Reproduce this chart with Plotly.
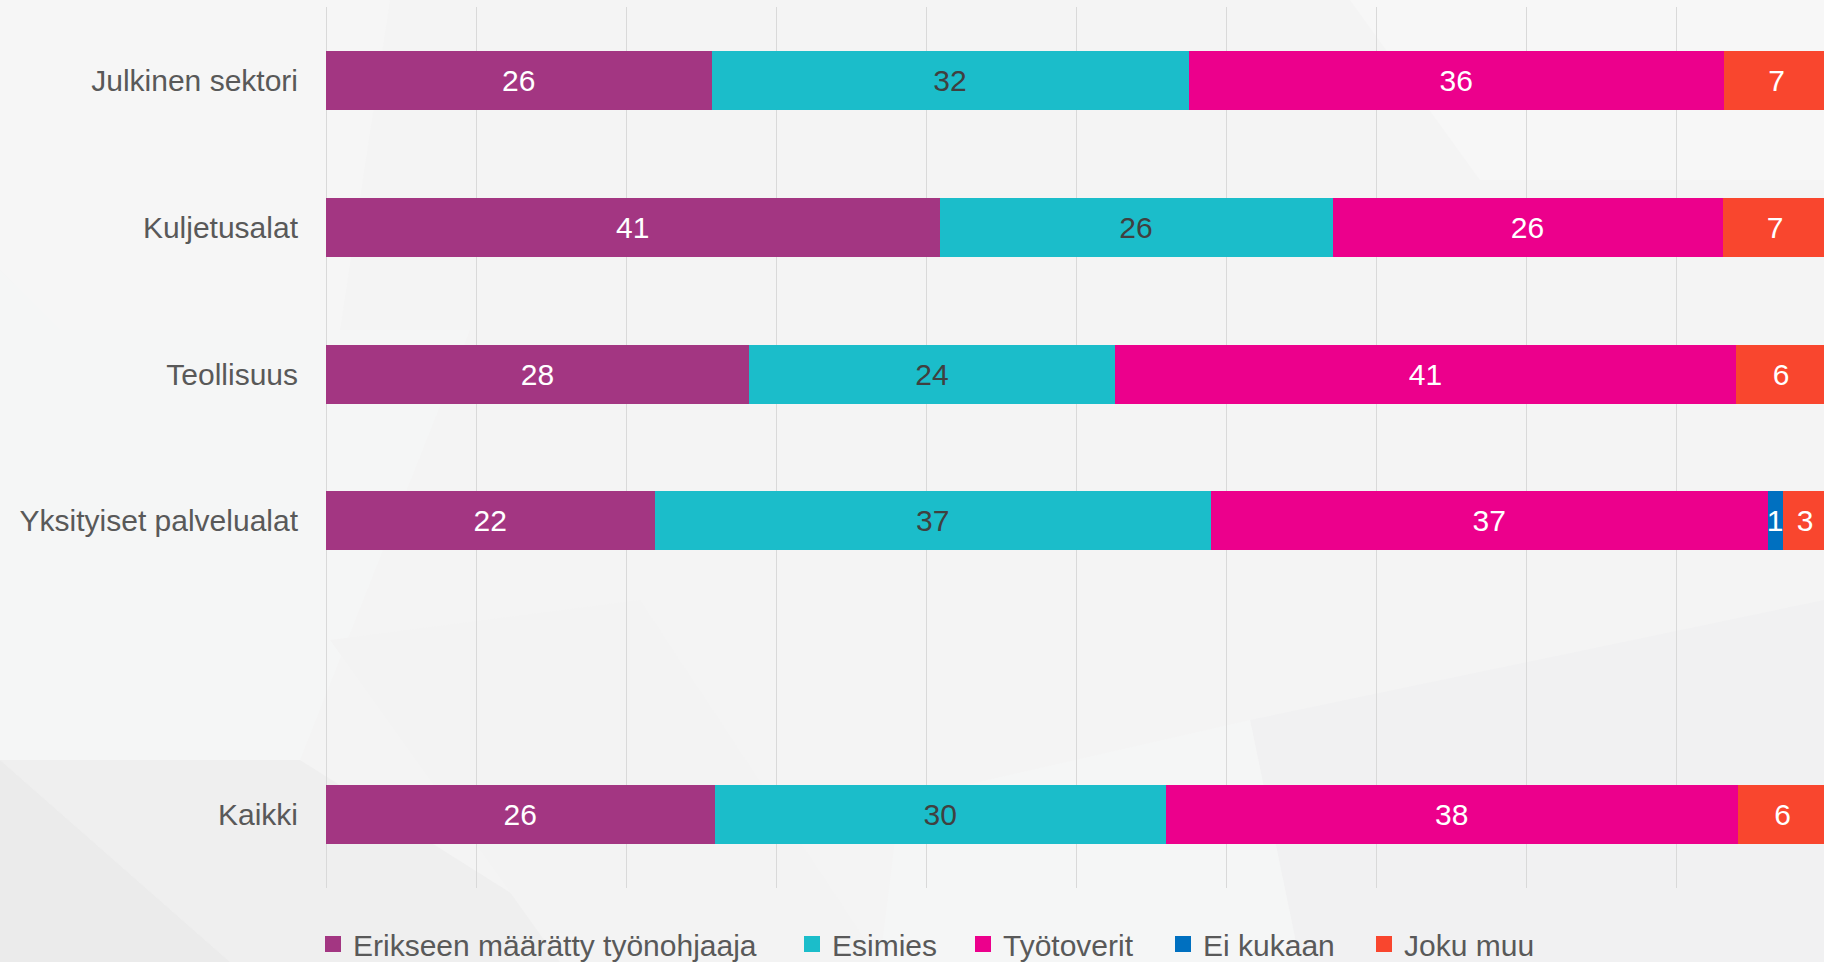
import plotly.graph_objects as go

# ---------------- data ----------------
categories = ["Julkinen sektori", "Kuljetusalat", "Teollisuus",
              "Yksityiset palvelualat", " ", "Kaikki"]
series_names = ["Erikseen määrätty työnohjaaja", "Esimies", "Työtoverit",
                "Ei kukaan", "Joku muu"]
erikseen = [25.7, 40.9, 28.2, 21.9, None, 25.9]
esimies = [31.8, 26.2, 24.4, 37.1, None, 30.1]
tyotoverit = [35.7, 26.0, 41.4, 37.1, None, 38.1]
ei_kukaan = [None, None, None, 1.0, None, None]
joku_muu = [7.0, 7.0, 6.0, 3.0, None, 6.0]

series_values = [erikseen, esimies, tyotoverit, ei_kukaan, joku_muu]
colors = ["#A33682", "#1BBDCA", "#EC008C", "#0070C0", "#F9462E"]
text_colors = ["#FFFFFF", "#404040", "#FFFFFF", "#FFFFFF", "#FFFFFF"]

# ---------------- layout geometry (px) ----------------
W, H = 1824, 962
L, R, T, B = 326, 0, 7, 74
PW = W - L - R
PH = H - T - B
FONT = "Liberation Sans, Arial, sans-serif"

def px_to_paper_x(px):
    return (px - L) / PW

def px_to_paper_y(py):
    return (H - B - py) / PH

fig = go.Figure()
legend_left_px = [313, 792, 963, 1163, 1364]
legend_names = ["legend", "legend2", "legend3", "legend4", "legend5"]

for name, vals, col, tcol in zip(series_names, series_values, colors, text_colors):
    fig.add_trace(go.Bar(
        name=name, y=categories, x=vals, orientation="h",
        marker=dict(color=col, line=dict(width=0)),
        texttemplate="%{x:.0f}", textposition="inside",
        insidetextanchor="middle",
        textfont=dict(family=FONT, size=30, color=tcol),
        hoverinfo="skip", showlegend=False, legendgroup=name,
    ))

# legend entries (square swatches, same colours and names as the bars)
for name, col, lg in zip(series_names, colors, legend_names):
    fig.add_trace(go.Scatter(
        name=name, x=[None], y=[None], mode="markers",
        marker=dict(symbol="square", size=16, color=col, line=dict(width=0)),
        legend=lg, legendgroup=name, hoverinfo="skip", showlegend=True,
    ))

# background decoration (subtle polygons)
bg_polys = [
    ([(0, 0), (390, 0), (340, 330), (60, 330), (0, 270)], "#f6f6f6"),
    ([(0, 270), (60, 330), (470, 330), (300, 760), (0, 760)], "#f5f6f6"),
    ([(0, 760), (300, 760), (620, 962), (230, 962)], "#efefef"),
    ([(0, 760), (230, 962), (0, 962)], "#ebebeb"),
    ([(330, 640), (640, 600), (880, 962), (560, 962)], "#f3f3f3"),
    ([(1350, 0), (1824, 0), (1824, 180), (1480, 180)], "#f7f7f7"),
    ([(1250, 720), (1824, 600), (1824, 962), (1300, 962)], "#f1f1f2"),
    ([(880, 962), (900, 800), (1250, 720), (1300, 962)], "#f5f6f6"),
]
shapes = []
for pts, col in bg_polys:
    path = "M " + " L ".join(f"{px_to_paper_x(x):.5f},{px_to_paper_y(y):.5f}" for x, y in pts) + " Z"
    shapes.append(dict(type="path", xref="paper", yref="paper", path=path,
                       fillcolor=col, line=dict(width=0), layer="below"))

legend_common = dict(orientation="h", yanchor="middle", xanchor="left",
                     y=px_to_paper_y(944), bgcolor="rgba(0,0,0,0)",
                     borderwidth=0, itemsizing="trace",
                     font=dict(family=FONT, size=30, color="#595959"))
legends = {}
for lg, lx in zip(legend_names, legend_left_px):
    legends[lg] = dict(x=px_to_paper_x(lx), **legend_common)

fig.update_layout(
    width=W, height=H,
    margin=dict(l=L, r=R, t=T, b=B, pad=0, autoexpand=False),
    barmode="stack", bargap=0.598,
    paper_bgcolor="#f4f4f4", plot_bgcolor="rgba(0,0,0,0)",
    font=dict(family=FONT, size=30, color="#595959"),
    uniformtext=dict(minsize=30, mode="show"),
    showlegend=True,
    shapes=shapes,
    xaxis=dict(range=[0, 100 * PW / 1500], dtick=10, tick0=0,
               showgrid=True, gridcolor="#d9d9d9", gridwidth=1,
               zeroline=True, zerolinecolor="#d9d9d9", zerolinewidth=1,
               showticklabels=False, showline=False, fixedrange=True),
    yaxis=dict(type="category", categoryorder="array", categoryarray=categories,
               autorange="reversed", showgrid=False, zeroline=False,
               ticks="outside", ticklen=21, tickcolor="rgba(0,0,0,0)",
               tickfont=dict(family=FONT, size=30, color="#595959"),
               fixedrange=True),
    **legends,
)

fig.write_html("out.html", config={"displayModeBar": False})
